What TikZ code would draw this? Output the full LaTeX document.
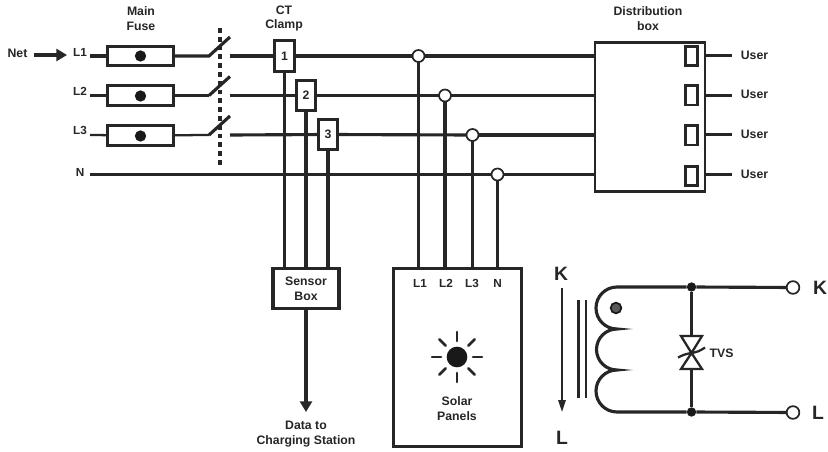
\documentclass[tikz,border=0pt]{standalone}
\usepackage{fontspec}
\setmainfont{Liberation Sans}
\usetikzlibrary{arrows.meta,calc}
\tikzset{
  x=0.75pt,y=-0.75pt,
  lbl/.style={inner sep=0pt,align=center,font=\fontsize{9.2}{11.2}\selectfont\bfseries,text=black!85},
  sidelbl/.style={lbl,font=\fontsize{8.8}{11}\selectfont\bfseries},
  biglbl/.style={inner sep=0pt,font=\fontsize{14.5}{16}\selectfont\bfseries,text=black!85},
  wire/.style={line width=2.35pt,draw=black!85},
  thinwire/.style={line width=1.7pt,draw=black!85},
  boxn/.style={draw=black!85,fill=white,line width=2.4pt,inner sep=0pt,outer sep=0pt,align=center,font=\fontsize{9.2}{11.2}\selectfont\bfseries,text=black!85},
  fuse/.style={boxn,minimum width=49.5pt,minimum height=14.5pt},
  clamp/.style={boxn,minimum width=14.5pt,minimum height=23pt},
  ubox/.style={draw=black!85,line width=2.2pt,minimum width=9pt,minimum height=14.3pt,inner sep=0pt},
  blackdot/.style={circle,fill=black!90,inner sep=0pt,minimum size=8.5pt},
  junc/.style={circle,draw=black!85,fill=white,line width=1.3pt,inner sep=0pt,minimum size=9pt,outer sep=0pt},
  sdot/.style={circle,fill=black!90,inner sep=0pt,minimum size=7pt},
  termc/.style={circle,draw=black!85,fill=white,line width=1.3pt,inner sep=0pt,minimum size=9.5pt,outer sep=0pt},
  ray/.style={line width=2pt,draw=black!85,line cap=round},
  tvstri/.style={draw=black!85,fill=white,line width=1.7pt,line join=miter},
  arrowtip/.style={-{Triangle[length=8pt,width=9pt]}},
}
\begin{document}
\begin{tikzpicture}
\useasboundingbox (0,0) rectangle (828,452);
\fill[white] (0,0) rectangle (828,452);
% labels
\node[lbl] (tmain) at (141,18.5) {Main\\Fuse};
\node[lbl] (tct) at (284,18.5) {CT\\Clamp};
\node[lbl] (tdist) at (648,18.5) {Distribution\\box};
\node[lbl] (tnet) at (17.5,53) {Net};
\node[sidelbl] (tl1) at (80,52.5) {L1};
\node[sidelbl] (tl2) at (80,91.5) {L2};
\node[sidelbl] (tl3) at (80,130) {L3};
\node[sidelbl] (tn) at (80,172) {N};
\coordinate (netA) at (34,55);
\coordinate (netB) at (67,55);
\draw[wire,arrowtip] (netA) -- (netB);
% left stubs
\coordinate (s1) at (90,56);
\coordinate (s2) at (90,95.5);
\coordinate (s3) at (90,135);
\coordinate (s4) at (90,174.5);
% fuses
\node[fuse] (f1) at (140.5,56) {};
\node[fuse] (f2) at (140.5,95.5) {};
\node[fuse] (f3) at (140.5,135.5) {};
\node[blackdot] (d1) at (140.5,56) {};
\node[blackdot] (d2) at (140.5,96) {};
\node[blackdot] (d3) at (140.5,136) {};
\draw[wire] (s1) -- (f1);
\draw[thinwire] (s2) -- (f2);
\draw[thinwire] (s3) -- (f3);
% switches
\coordinate (a1) at (209,56); \coordinate (b1) at (230,37); \coordinate (c1) at (230,56);
\coordinate (a2) at (209,95.5); \coordinate (b2) at (230,76.5); \coordinate (c2) at (230,95.5);
\coordinate (a3) at (209,135); \coordinate (b3) at (230,116); \coordinate (c3) at (230,135);
\coordinate (dashA) at (220,28);
\coordinate (dashB) at (220,165);
\draw[line width=2.5pt,draw=black!85,dash pattern=on 3.6pt off 3pt] (dashA) -- (dashB);
\draw[wire] (f1) -- (a1) -- (b1);
\draw[thinwire] (f2) -- (a2);
\draw[wire] (a2) -- (b2);
\draw[thinwire] (f3) -- (a3);
\draw[wire] (a3) -- (b3);
% clamps
\node[clamp] (k1) at (284.5,56) {1};
\node[clamp] (k2) at (306,95.5) {2};
\node[clamp] (k3) at (328,134.5) {3};
% sensor box
\node[boxn,minimum width=49.5pt,minimum height=30.5pt] (sensor) at (306,288.5) {Sensor\\Box};
% junctions
\node[junc] (j1) at (418.5,56) {};
\node[junc] (j2) at (445,95.5) {};
\node[junc] (j3) at (472.5,135) {};
\node[junc] (j4) at (497.5,174.5) {};
% boxes right
\node[draw=black!85,line width=2.2pt,minimum width=82.5pt,minimum height=112pt,inner sep=0pt,fill=white] (dist) at (650,117) {};
\node[ubox] (u1) at (691.5,56) {};
\node[ubox] (u2) at (691.5,95.5) {};
\node[ubox] (u3) at (691.5,135.5) {};
\node[ubox] (u4) at (691.5,176) {};
\coordinate (e1) at (732,55.5);
\coordinate (e2) at (732,95.5);
\coordinate (e3) at (732,134.5);
\coordinate (e4) at (732,174.5);
\draw[wire] (dist.east |- e1) -- (e1);
\draw[wire] (dist.east |- e2) -- (e2);
\draw[wire] (dist.east |- e3) -- (e3);
\draw[wire] (dist.east |- e4) -- (e4);
\node[lbl] (us1) at (754.5,55) {User};
\node[lbl] (us2) at (754.5,94.5) {User};
\node[lbl] (us3) at (754.5,134) {User};
\node[lbl] (us4) at (754.5,174) {User};
% main lines
\draw[wire] (c1) -- (k1);
\draw[wire] (c2) -- (k2);
\draw[wire] (c3) -- (k3);
\draw[wire] (k1) -- (j1);
\draw[wire] (k2) -- (j2);
\draw[wire] (k3) -- (j3);
\draw[wire] (j1) -- (j1 -| dist.west);
\draw[wire] (j2) -- (j2 -| dist.west);
\draw[wire] (j3) -- (j3 -| dist.west);
\draw[wire] (j4) -- (j4 -| dist.west);
\draw[thinwire] (s4) -- (j4);
% solar
\node[draw=black!85,line width=2.4pt,minimum width=96pt,minimum height=134pt,inner sep=0pt,fill=white] (solar) at (457.5,357.5) {};
\draw[wire] (j1) -- (j1 |- solar.north);
\draw[wire] (j2) -- (j2 |- solar.north);
\draw[wire] (j3) -- (j3 |- solar.north);
\draw[wire] (j4) -- (j4 |- solar.north);
\draw[wire] (k1) -- (k1.south |- sensor.north);
\draw[wire] (k2) -- (k2.south |- sensor.north);
\draw[wire] (k3) -- (k3.south |- sensor.north);
\coordinate (dataEnd) at (306,412);
\draw[wire,arrowtip] (sensor) -- (dataEnd);
\node[lbl] (tdata) at (306,434) {Data to\\Charging Station};
\node[sidelbl] (sl1) at (420,283.5) {L1};
\node[sidelbl] (sl2) at (446,283.5) {L2};
\node[sidelbl] (sl3) at (472,283.5) {L3};
\node[sidelbl] (sl4) at (497.5,283.5) {N};
\node[lbl] (tsol) at (457,408.5) {Solar\\Panels};
% sun
\node[circle,fill=black!90,inner sep=0pt,minimum size=15.5pt] (sun) at (457,357) {};
\foreach \a in {0,45,...,315}{
  \draw[ray] ($(sun)+(\a:16)$) -- ($(sun)+(\a:25)$);
}
% transformer
\node[biglbl] (kl) at (561,274) {K};
\node[biglbl] (ll) at (562,438) {L};
\coordinate (ka) at (562,288);
\coordinate (kb) at (562,412);
\draw[line width=1.4pt,draw=black!85,-{Triangle[length=9pt,width=5.5pt]}] (ka) -- (kb);
\coordinate (ca1) at (578.5,300); \coordinate (cb1) at (578.5,398);
\coordinate (ca2) at (586,300); \coordinate (cb2) at (586,398);
\draw[thinwire] (ca1) -- (cb1);
\draw[thinwire] (ca2) -- (cb2);
\node[circle,draw=black!90,fill=black!65,line width=1.3pt,inner sep=0pt,minimum size=8pt] (pol) at (616,308) {};
\node[sdot] (tt) at (691.5,287) {};
\node[sdot] (tb) at (691.5,412) {};
\node[termc] (kt) at (793,287.5) {};
\node[termc] (lt) at (793,412.5) {};
\node[biglbl] (kr) at (820,288) {K};
\node[biglbl] (lr) at (818,413) {L};
\draw[wire] (tt) -- (kt);
\draw[wire] (tb) -- (lt);
\coordinate (coilT) at (617,287);
\draw[wire] (tt) -- (coilT) arc[start angle=270,end angle=90,radius=21] arc[start angle=270,end angle=90,radius=20.5] arc[start angle=270,end angle=90,radius=21] -- (tb);
% TVS
\coordinate (tvsA) at (691.5,336);
\coordinate (tvsM) at (691.5,353);
\coordinate (tvsB) at (691.5,369);
\draw[wire] (tt) -- (tvsA);
\draw[wire] (tb) -- (tvsB);
\draw[tvstri] (681,336) -- (702,336) -- (tvsM) -- cycle;
\draw[tvstri] (681,369) -- (702,369) -- (tvsM) -- cycle;
\draw[line width=1.7pt,draw=black!85] (678,357.5) .. controls (684,354.5) and (686,354) .. (tvsM) .. controls (697,352) and (699,351.5) .. (705,347.5);
\node[lbl] (ttvs) at (721.5,353) {TVS};
\end{tikzpicture}
\end{document}
